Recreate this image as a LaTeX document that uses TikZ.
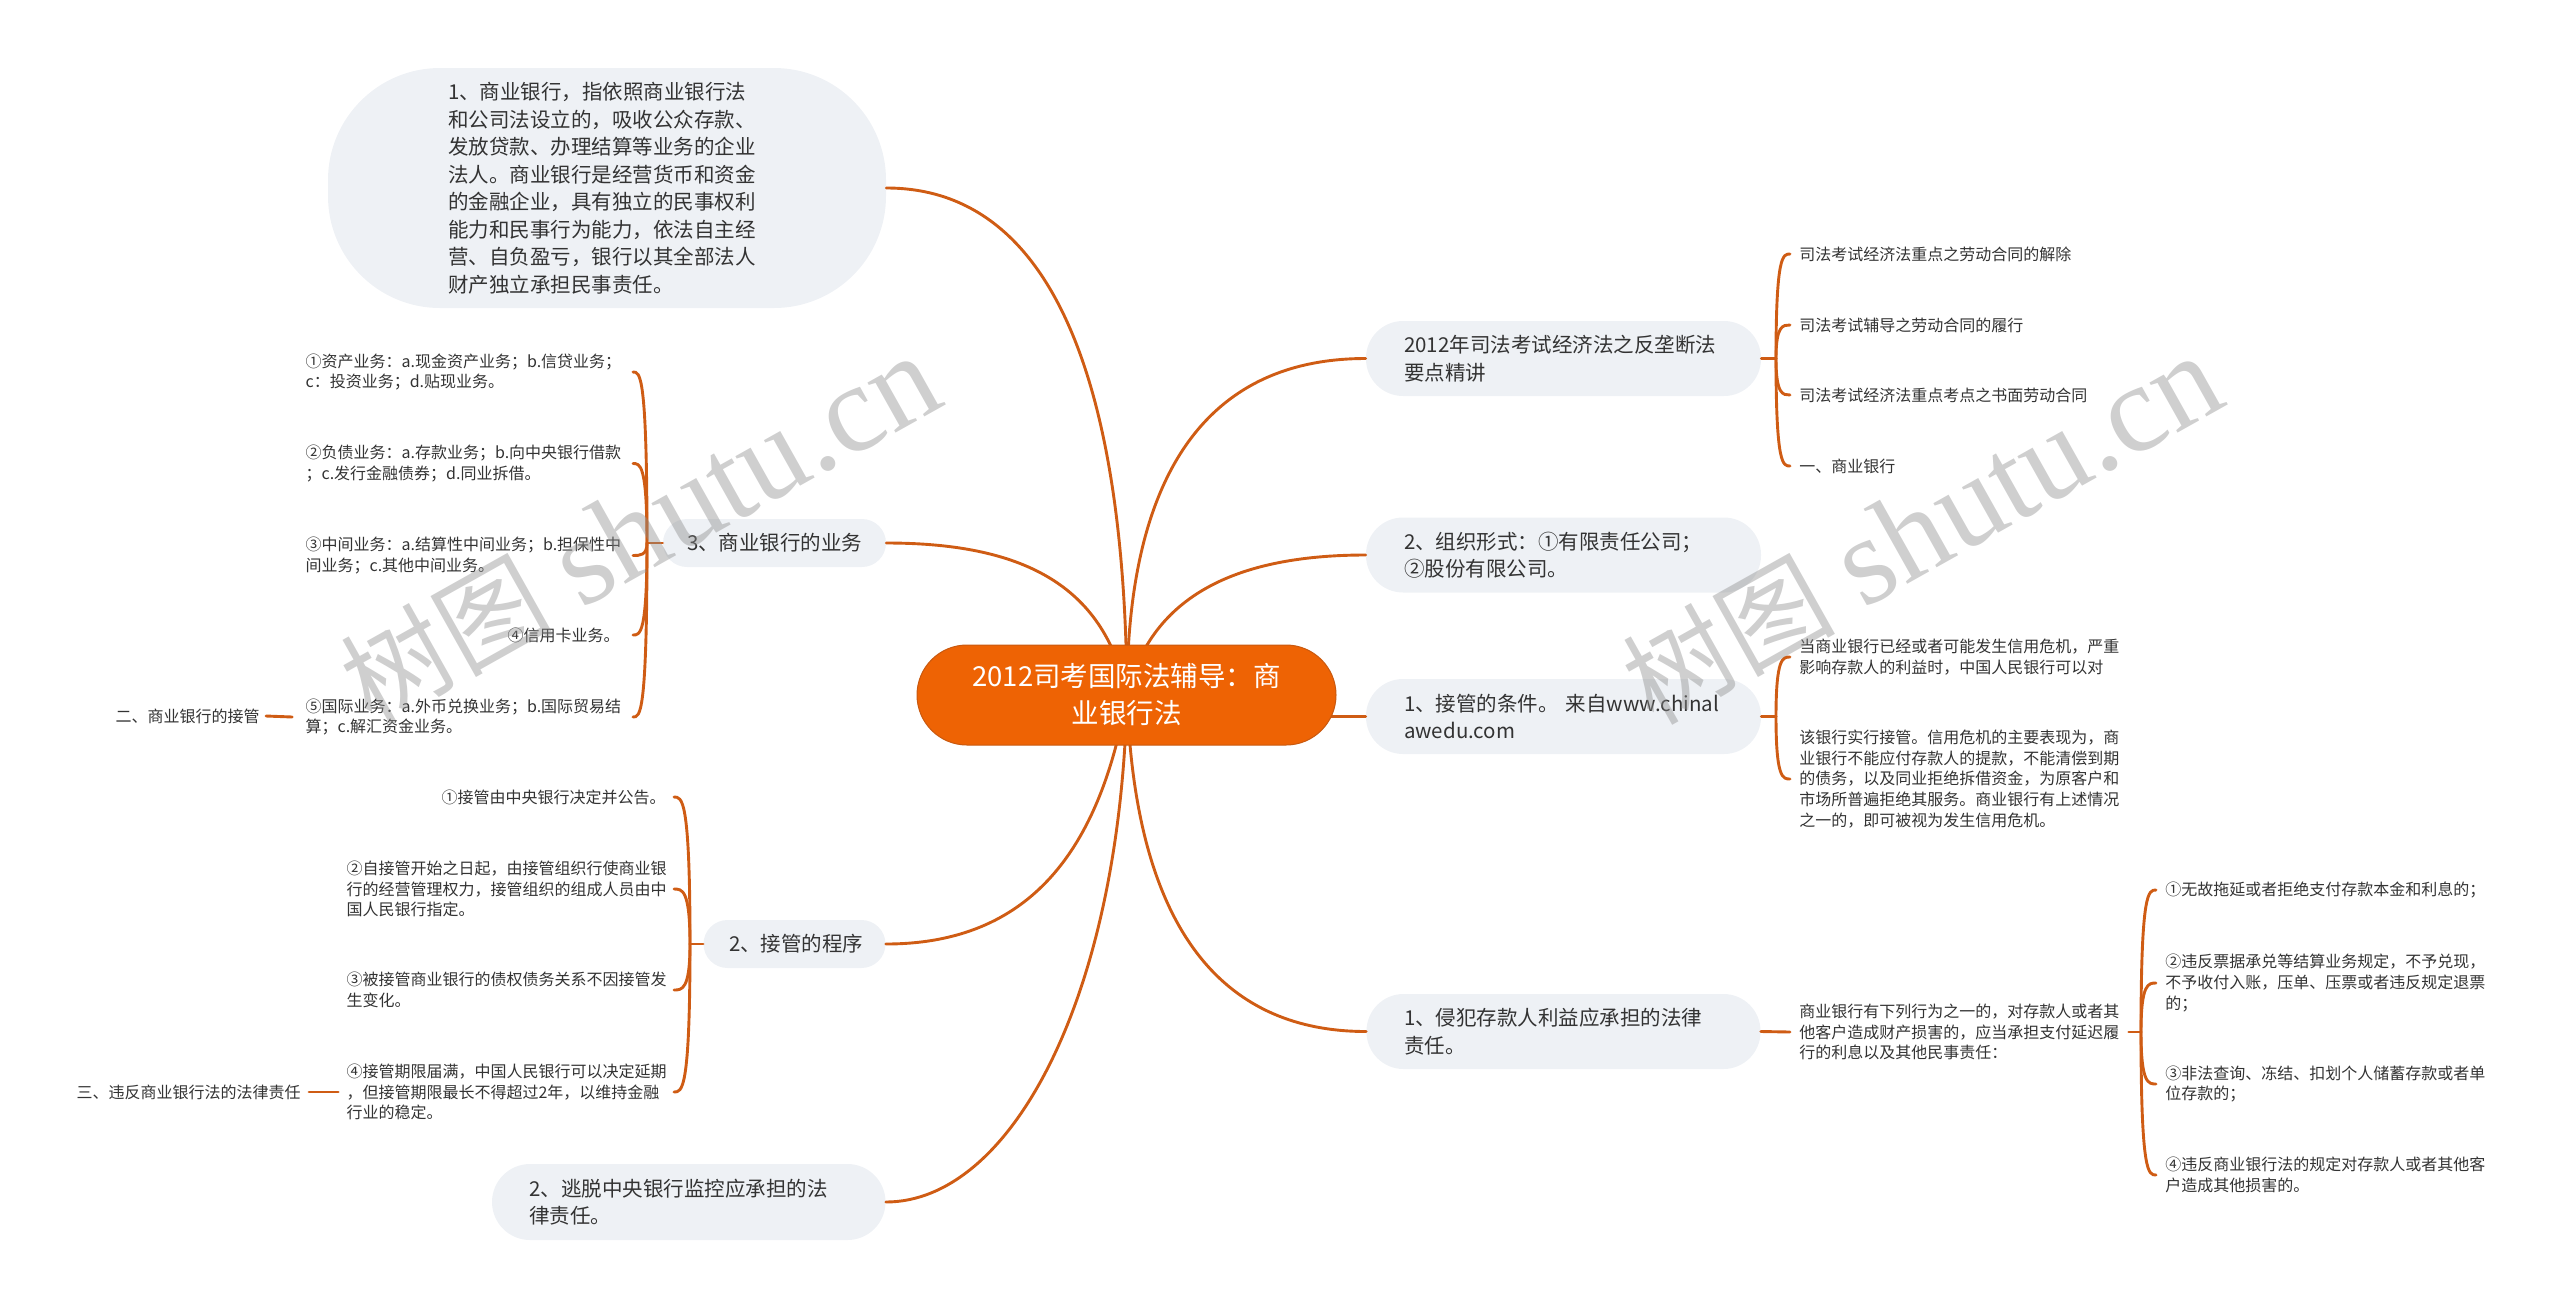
\documentclass[tikz,border=0pt]{standalone}
\usepackage{fontspec}
\setmainfont{Noto Sans CJK SC}
\newfontfamily\wmlatin{Liberation Serif}
\usetikzlibrary{calc}
\definecolor{branchc}{HTML}{CF5C14}
\definecolor{rootc}{HTML}{EE6304}
\definecolor{rootb}{HTML}{C9590F}
\definecolor{pillc}{HTML}{EEF1F5}
\definecolor{inkc}{HTML}{333333}
\tikzset{
  branch/.style={draw=branchc,line width=1.45pt,line cap=round},
  pill/.style={fill=pillc,text=inkc,align=left,inner sep=0pt,font=\fontsize{10.25}{13.75}\selectfont},
  leaf/.style={text=inkc,inner ysep=0pt,font=\fontsize{8}{10.3}\selectfont},
  watermark/.style={text=black!45,opacity=.42,rotate=29.3,inner sep=0pt}
}
\newcommand{\brk}[2]{\draw[branch] (#1) .. controls (#1 |- #2) and ($(#1 |- #2)!.5!(#2)$) .. (#2);}
\newcommand{\wmtext}{{\fontsize{53}{60}\selectfont 树图}\hspace{14pt}{\wmlatin\fontsize{62.5}{60}\selectfont shutu.cn}}
\begin{document}
\begin{tikzpicture}[x=0.5pt,y=-0.5pt]
\useasboundingbox (0,0) rectangle (2560,1308);
% convergence coordinate
\coordinate (hub) at (1127,695);
% first-level nodes
\node[pill,rounded corners=56pt,minimum width=279pt,minimum height=120pt,text width=159pt] (nA) at (607,188) {1、商业银行，指依照商业银行法\\和公司法设立的，吸收公众存款、\\发放贷款、办理结算等业务的企业\\法人。商业银行是经营货币和资金\\的金融企业，具有独立的民事权利\\能力和民事行为能力，依法自主经\\营、自负盈亏，银行以其全部法人\\财产独立承担民事责任。};
\node[pill,rounded corners=12pt,minimum width=111.5pt,minimum height=24pt,text width=87.5pt] (nB) at (774.5,543) {3、商业银行的业务};
\node[pill,rounded corners=12pt,minimum width=91pt,minimum height=24pt,text width=65.5pt] (nC) at (794.5,944) {2、接管的程序};
\node[pill,rounded corners=19pt,minimum width=196.75pt,minimum height=38pt,text width=159.5pt] (nD) at (688.75,1202) {2、逃脱中央银行监控应承担的法\\律责任。};
\node[pill,rounded corners=18.5pt,minimum width=197.5pt,minimum height=37.5pt,text width=159.5pt] (nE) at (1563.5,358.5) {2012年司法考试经济法之反垄断法\\要点精讲};
\node[pill,rounded corners=18.5pt,minimum width=197.5pt,minimum height=37.5pt,text width=159.5pt] (nF) at (1563.5,555) {2、组织形式：①有限责任公司；\\②股份有限公司。};
\node[pill,rounded corners=18.5pt,minimum width=197.5pt,minimum height=37.5pt,text width=159.5pt] (nG) at (1563.5,716.5) {1、接管的条件。 来自www.chinal\\awedu.com};
\node[pill,rounded corners=18.5pt,minimum width=197pt,minimum height=37.5pt,text width=159.5pt] (nH) at (1563.5,1031.5) {1、侵犯存款人利益应承担的法律\\责任。};
% leaves of 3
\begin{scope}[every node/.append style={leaf,inner xsep=6.5pt,text width=157pt,anchor=east}]
\node[align=left] (b1) at (633,372) {①资产业务：a.现金资产业务；b.信贷业务；\\c：投资业务；d.贴现业务。};
\node[align=left] (b2) at (633,463.5) {②负债业务：a.存款业务；b.向中央银行借款\\；c.发行金融债券；d.同业拆借。};
\node[align=left] (b3) at (633,555.5) {③中间业务：a.结算性中间业务；b.担保性中\\间业务；c.其他中间业务。};
\node[align=right] (b4) at (633,635) {④信用卡业务。};
\node[align=left] (b5) at (633,717) {⑤国际业务：a.外币兑换业务；b.国际贸易结\\算；c.解汇资金业务。};
\end{scope}
\node[leaf,inner xsep=3pt,anchor=east] (er) at (266,716) {二、商业银行的接管};
% leaves of 2 procedure
\begin{scope}[every node/.append style={leaf,inner xsep=4pt,text width=159.5pt,anchor=east}]
\node[align=right] (c1) at (674,797) {①接管由中央银行决定并公告。};
\node[align=left] (c2) at (674,889) {②自接管开始之日起，由接管组织行使商业银\\行的经营管理权力，接管组织的组成人员由中\\国人民银行指定。};
\node[align=left] (c3) at (674,990) {③被接管商业银行的债权债务关系不因接管发\\生变化。};
\node[align=left] (c4) at (674,1092) {④接管期限届满，中国人民银行可以决定延期\\，但接管期限最长不得超过2年，以维持金融\\行业的稳定。};
\end{scope}
\node[leaf,inner xsep=4pt,anchor=east] (sa) at (309,1092) {三、违反商业银行法的法律责任};
% right leaves
\begin{scope}[every node/.append style={leaf,inner xsep=4.5pt,anchor=west,align=left}]
\node (e1) at (1790,254) {司法考试经济法重点之劳动合同的解除};
\node (e2) at (1790,325) {司法考试辅导之劳动合同的履行};
\node (e3) at (1790,395) {司法考试经济法重点考点之书面劳动合同};
\node (e4) at (1790,466) {一、商业银行};
\node (g1) at (1790,657) {当商业银行已经或者可能发生信用危机，严重\\影响存款人的利益时，中国人民银行可以对};
\node (g2) at (1790,779) {该银行实行接管。信用危机的主要表现为，商\\业银行不能应付存款人的提款，不能清偿到期\\的债务，以及同业拒绝拆借资金，为原客户和\\市场所普遍拒绝其服务。商业银行有上述情况\\之一的，即可被视为发生信用危机。};
\node (hq) at (1790,1032) {商业银行有下列行为之一的，对存款人或者其\\他客户造成财产损害的，应当承担支付延迟履\\行的利息以及其他民事责任：};
\node (q1) at (2156,890) {①无故拖延或者拒绝支付存款本金和利息的；};
\node (q2) at (2156,983) {②违反票据承兑等结算业务规定，不予兑现，\\不予收付入账，压单、压票或者违反规定退票\\的；};
\node (q3) at (2156,1084) {③非法查询、冻结、扣划个人储蓄存款或者单\\位存款的；};
\node (q4) at (2156,1175) {④违反商业银行法的规定对存款人或者其他客\\户造成其他损害的。};
\end{scope}
% junctions
\coordinate (jB) at (647,543);
\coordinate (jC) at (690,944);
\coordinate (jE) at (1776,358.5);
\coordinate (jG) at (1776,716.5);
\coordinate (jQ) at (2141,1032);
% main curves
\draw[branch] (nA.east) .. controls (1060,188) and (1125,400) .. (hub);
\draw[branch] (nB.east) .. controls (1030,543) and (1105,590) .. (hub);
\draw[branch] (nC.east) .. controls (1030,944) and (1100,850) .. (hub);
\draw[branch] (nD.east) .. controls (1010,1202) and (1120,1000) .. (hub);
\draw[branch] (nE.west) .. controls (1210,358.5) and (1127,470) .. (hub);
\draw[branch] (nF.west) .. controls (1230,555) and (1150,600) .. (hub);
\draw[branch] (nG.west) -- (hub |- nG.west);
\draw[branch] (nH.west) .. controls (1230,1031.5) and (1135,940) .. (hub);
% root
\node[fill=rootc,draw=rootb,line width=.5pt,rounded corners=25pt,minimum width=209.5pt,minimum height=50pt,text width=172pt,align=center,text=white,inner sep=0pt,font=\fontsize{13.75}{18.5}\selectfont] (root) at (1126.5,695) {2012司考国际法辅导：商\\业银行法};
% brackets
\draw[branch] (nB.west) -- (jB);
\brk{jB}{b1.east}\brk{jB}{b2.east}\brk{jB}{b3.east}\brk{jB}{b4.east}\brk{jB}{b5.east}
\draw[branch] (er.east) -- (b5.west);
\draw[branch] (nC.west) -- (jC);
\brk{jC}{c1.east}\brk{jC}{c2.east}\brk{jC}{c3.east}\brk{jC}{c4.east}
\draw[branch] (sa.east) -- (c4.west);
\draw[branch] (nE.east) -- (jE);
\brk{jE}{e1.west}\brk{jE}{e2.west}\brk{jE}{e3.west}\brk{jE}{e4.west}
\draw[branch] (nG.east) -- (jG);
\brk{jG}{g1.west}\brk{jG}{g2.west}
\draw[branch] (nH.east) -- (hq.west);
\draw[branch] (hq.east) -- (jQ);
\brk{jQ}{q1.west}\brk{jQ}{q2.west}\brk{jQ}{q3.west}\brk{jQ}{q4.west}
% watermarks
\node[watermark] (wmL) at (640,530) {\wmtext};
\node[watermark] (wmR) at (1922,530) {\wmtext};
\end{tikzpicture}
\end{document}
